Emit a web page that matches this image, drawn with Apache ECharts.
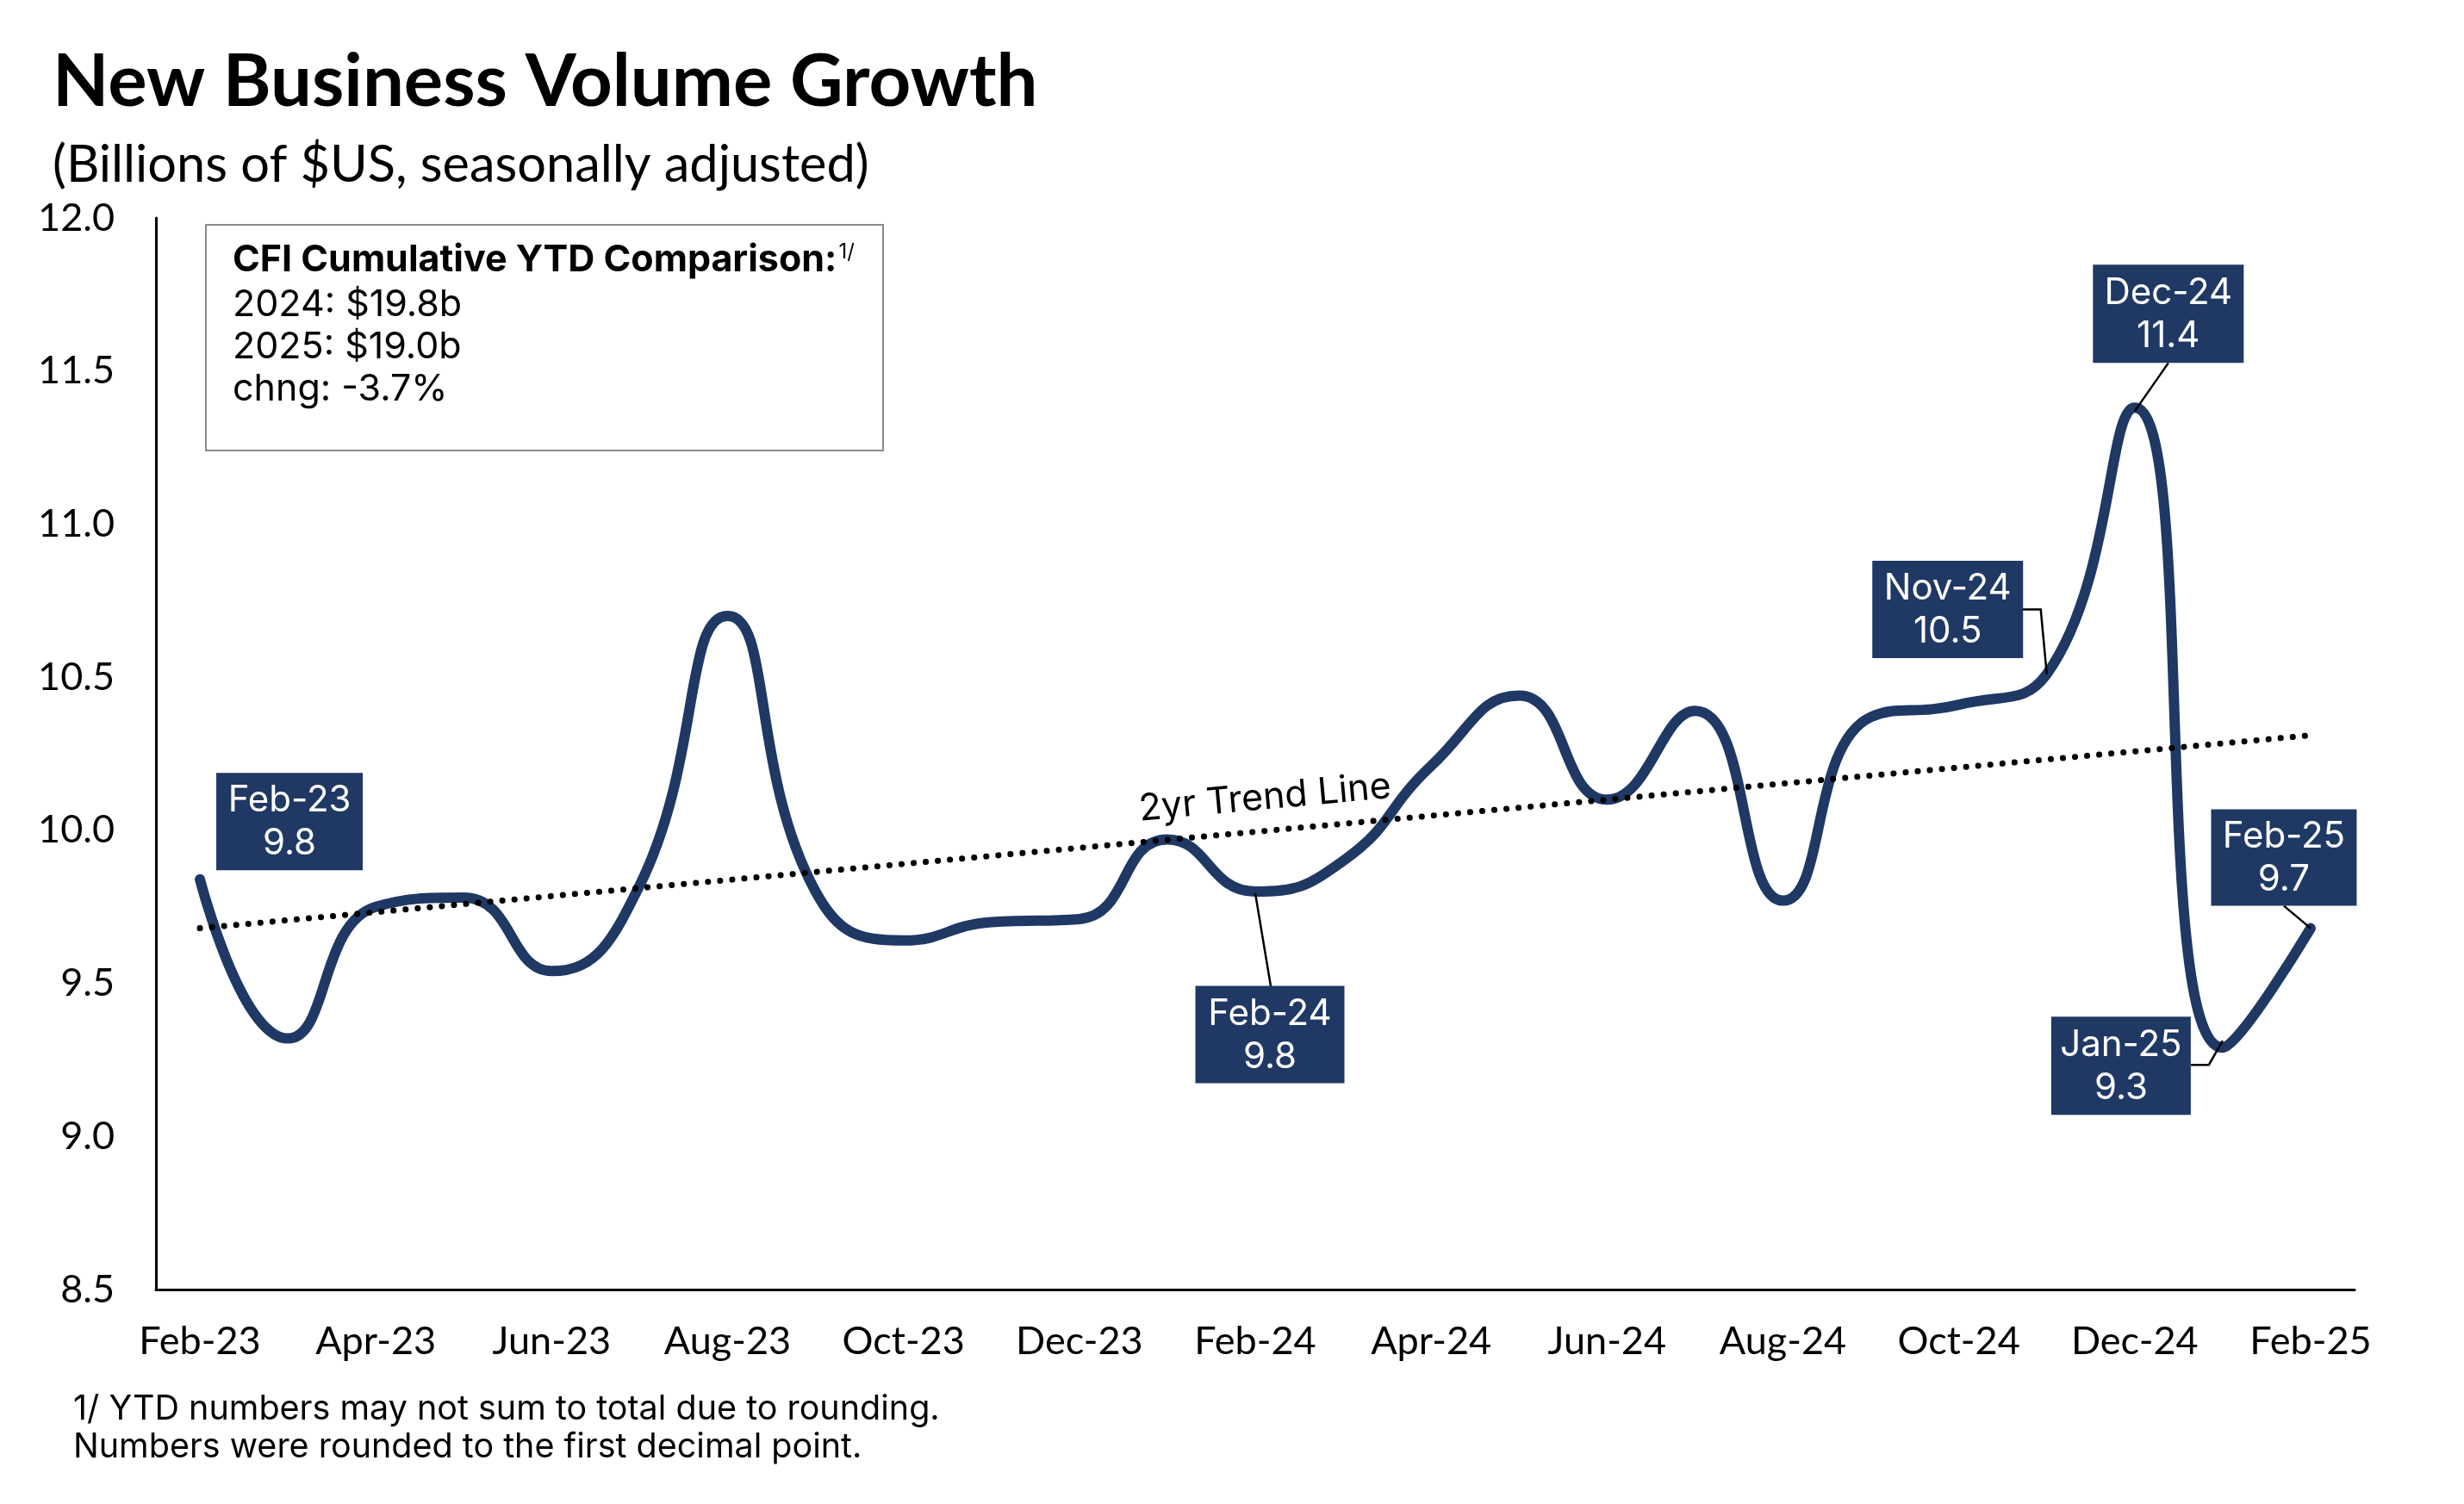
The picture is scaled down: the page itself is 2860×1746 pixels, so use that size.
<!DOCTYPE html>
<html><head><meta charset="utf-8">
<script src="https://cdn.jsdelivr.net/npm/echarts@6/dist/echarts.min.js"></script>
<style>html,body{margin:0;padding:0;background:#fff}#c{width:2860px;height:1746px}</style>
</head><body><div id="c"></div>
<script>
// ---- data ----
const months = ['Feb-23','Mar-23','Apr-23','May-23','Jun-23','Jul-23','Aug-23','Sep-23','Oct-23','Nov-23','Dec-23','Jan-24',
  'Feb-24','Mar-24','Apr-24','May-24','Jun-24','Jul-24','Aug-24','Sep-24','Oct-24','Nov-24','Dec-24','Jan-25','Feb-25'];
const volume = [9.84, 9.32, 9.75, 9.78, 9.54, 9.82, 10.70, 9.80, 9.64, 9.70, 9.71, 9.97,
  9.80, 9.90, 10.21, 10.44, 10.10, 10.39, 9.77, 10.37, 10.41, 10.51, 11.38, 9.29, 9.68];
const trendMonths = ['Feb-23', 'Feb-25'];
const trendValues = [9.68, 10.31];
const trendLabel = '2yr Trend Line';
const yMin = 8.5, yMax = 12.0, yStep = 0.5;
const calloutMonths = ['Feb-23', 'Feb-24', 'Nov-24', 'Dec-24', 'Jan-25', 'Feb-25'];
const titleText = 'New Business Volume Growth';
const subtitleText = '(Billions of $US, seasonally adjusted)';
const ytdHeader = 'CFI Cumulative YTD Comparison:';
const ytdLines = ['2024: $19.8b', '2025: $19.0b', 'chng: -3.7%'];
const footnotes = ['1/ YTD numbers may not sum to total due to rounding.', 'Numbers were rounded to the first decimal point.'];

// ---- styles / layout (not data) ----
const NAVY = '#1f3864';
const calloutLayout = {
  'Feb-23': {dx: 104, dy: -67, w: 170, h: 113, leader: null},
  'Feb-24': {dx: 17, dy: 166, w: 173, h: 113, leader: [[0, 2], [18, 110]]},
  'Nov-24': {dx: -115, dy: -75, w: 175, h: 113, leader: [[0, 0], [-7, -75], [-28, -75]]},
  'Dec-24': {dx: 39, dy: -109, w: 175, h: 114, leader: [[0, 4], [39, -52]]},
  'Jan-25': {dx: -118, dy: 21, w: 162, h: 114, leader: [[0, -8], [-16, 20], [-37, 20]]},
  'Feb-25': {dx: -31, dy: -82, w: 169, h: 112, leader: [[0, 0], [-31, -26]]}
};

const chart = echarts.init(document.getElementById('c'), null, {renderer: 'canvas'});
const AX_FONT = 'Lato';
chart.setOption({
  animation: false,
  backgroundColor: '#fff',
  grid: {left: 181, right: 127, top: 253, bottom: 249},
  xAxis: {
    type: 'category', data: months, boundaryGap: true,
    axisLine: {lineStyle: {color: '#000', width: 3}},
    axisTick: {show: false},
    axisLabel: {interval: 1, color: '#000', fontFamily: AX_FONT, fontSize: 45, margin: 38}
  },
  yAxis: {
    type: 'value', min: yMin, max: yMax, interval: yStep,
    axisLine: {show: true, lineStyle: {color: '#000', width: 3}},
    axisTick: {show: false},
    splitLine: {show: false},
    axisLabel: {color: '#000', fontFamily: AX_FONT, fontSize: 45, margin: 48,
      formatter: v => v.toFixed(1)}
  },
  series: [
    {
      type: 'line', data: volume, smooth: 0.5, symbol: 'none',
      lineStyle: {color: NAVY, width: 12, cap: 'round', join: 'round'}, z: 3
    },
    {
      type: 'line', data: trendMonths.map((m, i) => [m, trendValues[i]]), symbol: 'none',
      lineStyle: {color: '#000', width: 7, type: [0.1, 14], cap: 'round'}, z: 4
    }
  ]
});

// ---- annotations positioned through the chart's own scales ----
const g = [];
const px = (m, v) => chart.convertToPixel({xAxisIndex: 0, yAxisIndex: 0}, [m, v]);

g.push({type: 'text', x: 61, y: 96, style: {text: titleText, font: 'bold 85px Lato', fill: '#000', verticalAlign: 'middle'}});
g.push({type: 'text', x: 61, y: 192, style: {text: subtitleText, font: '59.5px Lato', fill: '#000', verticalAlign: 'middle'}});

// YTD box
g.push({type: 'rect', shape: {x: 239, y: 261, width: 786, height: 262}, style: {fill: '#fff', stroke: '#8a8a8a', lineWidth: 2}, z: 10});
g.push({type: 'text', x: 270, y: 302, z: 11, style: {
  text: '{h|' + ytdHeader + '}{s|1/}', verticalAlign: 'middle', fill: '#000',
  rich: {h: {font: 'bold 43px Inter', fill: '#000'}, s: {font: '24px Inter', fill: '#000', verticalAlign: 'top', padding: [0, 0, 16, 2]}}
}});
ytdLines.forEach((t, i) => g.push({type: 'text', x: 270, y: 354 + i * 49, z: 11,
  style: {text: t, font: '43px Inter', fill: '#000', verticalAlign: 'middle'}}));

// footnotes
footnotes.forEach((t, i) => g.push({type: 'text', x: 85, y: 1636 + i * 44,
  style: {text: t, font: '39.5px Inter', fill: '#000', verticalAlign: 'middle'}}));

// trend label
const p0 = px(trendMonths[0], trendValues[0]);
const p1 = px(trendMonths[1], trendValues[1]);
const ang = Math.atan2(p1[1] - p0[1], p1[0] - p0[0]);
const tFrac = 0.506;
const tx = p0[0] + (p1[0] - p0[0]) * tFrac, ty = p0[1] + (p1[1] - p0[1]) * tFrac;
g.push({type: 'text', x: tx + 38 * Math.sin(ang), y: ty - 38 * Math.cos(ang), rotation: -ang,
  style: {text: trendLabel, font: '43px Inter', fill: '#000', align: 'center', verticalAlign: 'middle'}, z: 12});

// callouts
calloutMonths.forEach(m => {
  const i = months.indexOf(m);
  const v = volume[i];
  const p = px(m, v);
  const L = calloutLayout[m];
  if (L.leader) {
    g.push({type: 'polyline', shape: {points: L.leader.map(o => [p[0] + o[0], p[1] + o[1]])},
      style: {stroke: '#000', lineWidth: 2.5, fill: null}, z: 20});
  }
  const cx = p[0] + L.dx, cy = p[1] + L.dy;
  g.push({type: 'rect', shape: {x: cx - L.w / 2, y: cy - L.h / 2, width: L.w, height: L.h},
    style: {fill: NAVY}, z: 21});
  g.push({type: 'text', x: cx, y: cy + 1, z: 22,
    style: {text: m + '\n' + v.toFixed(1), font: '42px Inter', lineHeight: 50, fill: '#fff', align: 'center', verticalAlign: 'middle'}});
});

chart.setOption({graphic: g});
</script>
</body></html>
